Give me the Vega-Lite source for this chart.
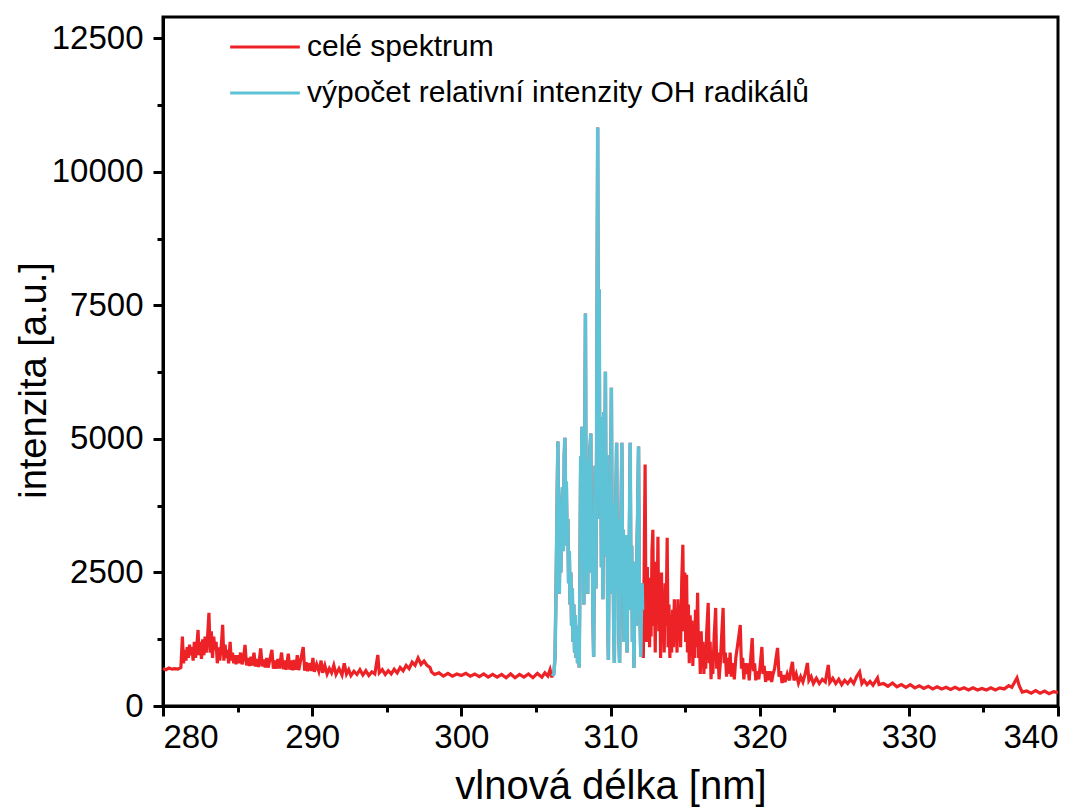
{
"$schema": "https://vega.github.io/schema/vega-lite/v6.json",
"width": 895, "height": 689,
"autosize": "none",
"padding": {"left": 163, "top": 17, "right": 31, "bottom": 105},
"background": "white",
"config": {
  "font": "Liberation Sans",
  "view": {"stroke": "black", "strokeWidth": 3},
  "axis": {"grid": false, "domainColor": "black", "domainWidth": 3, "tickColor": "black", "tickWidth": 3, "tickSize": 10, "labelColor": "black", "labelFontSize": 33, "titleFontSize": 38, "titleFontWeight": "normal", "titleColor": "black"}
},
"datasets": {
"full": [
{"nm":280.0,"I":700},{"nm":280.2,"I":680},{"nm":280.4,"I":710},{"nm":280.6,"I":690},{"nm":280.8,"I":700},{"nm":281.0,"I":690},{"nm":281.2,"I":720},{"nm":281.3,"I":1300},{"nm":281.38,"I":800},{"nm":281.46,"I":1050},{"nm":281.54,"I":850},{"nm":281.62,"I":1100},{"nm":281.7,"I":900},{"nm":281.78,"I":1150},{"nm":281.86,"I":950},{"nm":281.94,"I":1100},{"nm":282.02,"I":850},{"nm":282.1,"I":1200},{"nm":282.18,"I":900},{"nm":282.26,"I":1100},{"nm":282.35,"I":1424},{"nm":282.42,"I":950},{"nm":282.5,"I":1200},{"nm":282.58,"I":880},{"nm":282.66,"I":1250},{"nm":282.74,"I":950},{"nm":282.82,"I":1300},{"nm":282.9,"I":1000},{"nm":283.0,"I":1350},{"nm":283.08,"I":1743},{"nm":283.16,"I":1000},{"nm":283.24,"I":1400},{"nm":283.32,"I":900},{"nm":283.4,"I":1300},{"nm":283.48,"I":1050},{"nm":283.56,"I":1200},{"nm":283.64,"I":800},{"nm":283.72,"I":1100},{"nm":283.8,"I":850},{"nm":283.9,"I":1100},{"nm":284.0,"I":1518},{"nm":284.08,"I":850},{"nm":284.16,"I":1150},{"nm":284.24,"I":900},{"nm":284.32,"I":1050},{"nm":284.4,"I":800},{"nm":284.5,"I":1200},{"nm":284.58,"I":850},{"nm":284.66,"I":1000},{"nm":284.74,"I":800},{"nm":284.82,"I":950},{"nm":284.9,"I":780},{"nm":285.0,"I":950},{"nm":285.1,"I":800},{"nm":285.2,"I":1000},{"nm":285.3,"I":780},{"nm":285.4,"I":900},{"nm":285.5,"I":1143},{"nm":285.6,"I":760},{"nm":285.7,"I":900},{"nm":285.8,"I":750},{"nm":285.9,"I":920},{"nm":286.0,"I":760},{"nm":286.1,"I":1000},{"nm":286.2,"I":740},{"nm":286.3,"I":880},{"nm":286.4,"I":730},{"nm":286.55,"I":1080},{"nm":286.65,"I":740},{"nm":286.75,"I":870},{"nm":286.85,"I":720},{"nm":286.95,"I":900},{"nm":287.05,"I":720},{"nm":287.15,"I":850},{"nm":287.3,"I":1050},{"nm":287.4,"I":700},{"nm":287.5,"I":850},{"nm":287.6,"I":700},{"nm":287.7,"I":880},{"nm":287.8,"I":700},{"nm":287.95,"I":1000},{"nm":288.05,"I":690},{"nm":288.15,"I":850},{"nm":288.25,"I":680},{"nm":288.4,"I":980},{"nm":288.5,"I":680},{"nm":288.6,"I":850},{"nm":288.7,"I":670},{"nm":288.8,"I":860},{"nm":288.9,"I":680},{"nm":289.0,"I":950},{"nm":289.1,"I":670},{"nm":289.2,"I":820},{"nm":289.4,"I":1105},{"nm":289.5,"I":660},{"nm":289.6,"I":820},{"nm":289.7,"I":650},{"nm":289.8,"I":800},{"nm":289.95,"I":660},{"nm":290.05,"I":900},{"nm":290.15,"I":640},{"nm":290.3,"I":780},{"nm":290.45,"I":650},{"nm":290.6,"I":850},{"nm":290.7,"I":620},{"nm":290.85,"I":760},{"nm":291.0,"I":600},{"nm":291.15,"I":700},{"nm":291.3,"I":620},{"nm":291.45,"I":760},{"nm":291.6,"I":590},{"nm":291.8,"I":700},{"nm":292.0,"I":580},{"nm":292.15,"I":800},{"nm":292.3,"I":600},{"nm":292.45,"I":680},{"nm":292.6,"I":570},{"nm":292.8,"I":650},{"nm":293.0,"I":590},{"nm":293.2,"I":680},{"nm":293.4,"I":580},{"nm":293.6,"I":660},{"nm":293.8,"I":570},{"nm":294.0,"I":640},{"nm":294.2,"I":600},{"nm":294.4,"I":955},{"nm":294.5,"I":620},{"nm":294.7,"I":680},{"nm":294.9,"I":590},{"nm":295.1,"I":660},{"nm":295.3,"I":600},{"nm":295.5,"I":690},{"nm":295.7,"I":620},{"nm":295.9,"I":720},{"nm":296.1,"I":660},{"nm":296.3,"I":760},{"nm":296.5,"I":700},{"nm":296.7,"I":820},{"nm":296.9,"I":760},{"nm":297.1,"I":900},{"nm":297.3,"I":780},{"nm":297.5,"I":840},{"nm":297.7,"I":760},{"nm":297.9,"I":720},{"nm":298.0,"I":640},{"nm":298.2,"I":590},{"nm":298.5,"I":620},{"nm":298.8,"I":560},{"nm":299.1,"I":610},{"nm":299.4,"I":560},{"nm":299.7,"I":600},{"nm":300.0,"I":570},{"nm":300.3,"I":610},{"nm":300.6,"I":560},{"nm":300.9,"I":600},{"nm":301.2,"I":550},{"nm":301.5,"I":600},{"nm":301.8,"I":540},{"nm":302.1,"I":590},{"nm":302.4,"I":540},{"nm":302.7,"I":590},{"nm":303.0,"I":530},{"nm":303.3,"I":600},{"nm":303.6,"I":530},{"nm":303.9,"I":590},{"nm":304.2,"I":540},{"nm":304.5,"I":600},{"nm":304.8,"I":530},{"nm":305.1,"I":610},{"nm":305.4,"I":540},{"nm":305.6,"I":620},{"nm":305.8,"I":560},{"nm":305.95,"I":680},{"nm":306.05,"I":560},
{"nm":306.1,"I":560},{"nm":306.2,"I":600},{"nm":306.28,"I":900},{"nm":306.35,"I":2200},{"nm":306.42,"I":3800},{"nm":306.47,"I":4950},{"nm":306.52,"I":3000},{"nm":306.57,"I":2100},{"nm":306.62,"I":3400},{"nm":306.67,"I":2500},{"nm":306.72,"I":3700},{"nm":306.78,"I":4100},{"nm":306.84,"I":2900},{"nm":306.9,"I":4700},{"nm":306.94,"I":5020},{"nm":306.99,"I":3900},{"nm":307.04,"I":4200},{"nm":307.09,"I":3000},{"nm":307.14,"I":3500},{"nm":307.19,"I":2300},{"nm":307.24,"I":2900},{"nm":307.29,"I":1900},{"nm":307.34,"I":2500},{"nm":307.39,"I":1500},{"nm":307.44,"I":2200},{"nm":307.49,"I":1200},{"nm":307.54,"I":1900},{"nm":307.59,"I":1000},{"nm":307.64,"I":1700},{"nm":307.69,"I":900},{"nm":307.74,"I":1500},{"nm":307.79,"I":800},{"nm":307.85,"I":1300},{"nm":307.9,"I":720},{"nm":307.95,"I":2400},{"nm":308.0,"I":4670},{"nm":308.04,"I":2800},{"nm":308.08,"I":5230},{"nm":308.12,"I":3400},{"nm":308.17,"I":4300},{"nm":308.21,"I":1900},{"nm":308.26,"I":3900},{"nm":308.32,"I":7350},{"nm":308.37,"I":2600},{"nm":308.42,"I":4600},{"nm":308.47,"I":2100},{"nm":308.52,"I":4200},{"nm":308.57,"I":3000},{"nm":308.62,"I":4800},{"nm":308.68,"I":5100},{"nm":308.72,"I":2500},{"nm":308.77,"I":3600},{"nm":308.82,"I":1700},{"nm":308.87,"I":920},{"nm":308.92,"I":3000},{"nm":308.97,"I":4500},{"nm":309.02,"I":2200},{"nm":309.07,"I":5000},{"nm":309.14,"I":10830},{"nm":309.19,"I":5200},{"nm":309.24,"I":7800},{"nm":309.29,"I":3500},{"nm":309.34,"I":5400},{"nm":309.39,"I":2600},{"nm":309.44,"I":4800},{"nm":309.49,"I":2000},{"nm":309.54,"I":5500},{"nm":309.59,"I":3100},{"nm":309.66,"I":6260},{"nm":309.71,"I":2800},{"nm":309.76,"I":4700},{"nm":309.81,"I":1700},{"nm":309.86,"I":860},{"nm":309.91,"I":3500},{"nm":309.96,"I":2100},{"nm":310.01,"I":4300},{"nm":310.06,"I":5960},{"nm":310.11,"I":2600},{"nm":310.16,"I":3800},{"nm":310.21,"I":1500},{"nm":310.26,"I":806},{"nm":310.31,"I":2800},{"nm":310.36,"I":3900},{"nm":310.41,"I":4930},{"nm":310.46,"I":2200},{"nm":310.51,"I":3500},{"nm":310.56,"I":1300},{"nm":310.61,"I":806},{"nm":310.66,"I":2400},{"nm":310.71,"I":3600},{"nm":310.76,"I":4930},{"nm":310.81,"I":2300},{"nm":310.86,"I":3300},{"nm":310.91,"I":1200},{"nm":310.96,"I":2900},{"nm":311.01,"I":1700},{"nm":311.06,"I":3200},{"nm":311.11,"I":1000},{"nm":311.16,"I":2600},{"nm":311.21,"I":1800},{"nm":311.26,"I":3100},{"nm":311.32,"I":4930},{"nm":311.37,"I":2200},{"nm":311.42,"I":3000},{"nm":311.47,"I":1200},{"nm":311.52,"I":2400},{"nm":311.57,"I":712},{"nm":311.62,"I":2000},{"nm":311.67,"I":2700},{"nm":311.72,"I":1500},{"nm":311.77,"I":2900},{"nm":311.82,"I":3600},{"nm":311.88,"I":4860},{"nm":311.93,"I":2200},{"nm":311.98,"I":1600},{"nm":312.03,"I":920},{"nm":312.08,"I":2000},{"nm":312.12,"I":2300},{"nm":312.15,"I":1800},
{"nm":312.2,"I":900},{"nm":312.27,"I":3000},{"nm":312.32,"I":4520},{"nm":312.37,"I":2000},{"nm":312.42,"I":1200},{"nm":312.47,"I":2600},{"nm":312.52,"I":1400},{"nm":312.57,"I":2000},{"nm":312.62,"I":1100},{"nm":312.67,"I":2400},{"nm":312.72,"I":1300},{"nm":312.78,"I":2900},{"nm":312.84,"I":3300},{"nm":312.9,"I":1500},{"nm":312.95,"I":2100},{"nm":313.0,"I":1000},{"nm":313.06,"I":2700},{"nm":313.12,"I":1700},{"nm":313.18,"I":3170},{"nm":313.24,"I":1400},{"nm":313.3,"I":2200},{"nm":313.36,"I":900},{"nm":313.42,"I":2500},{"nm":313.48,"I":1200},{"nm":313.54,"I":1900},{"nm":313.6,"I":1000},{"nm":313.66,"I":2300},{"nm":313.72,"I":1500},{"nm":313.8,"I":3150},{"nm":313.86,"I":1100},{"nm":313.92,"I":1900},{"nm":313.98,"I":900},{"nm":314.04,"I":1700},{"nm":314.1,"I":1000},{"nm":314.16,"I":1800},{"nm":314.22,"I":1100},{"nm":314.28,"I":2000},{"nm":314.34,"I":1200},{"nm":314.4,"I":1700},{"nm":314.46,"I":1000},{"nm":314.52,"I":2000},{"nm":314.58,"I":1300},{"nm":314.64,"I":1900},{"nm":314.7,"I":1100},{"nm":314.78,"I":2400},{"nm":314.85,"I":3017},{"nm":314.92,"I":1400},{"nm":314.98,"I":2500},{"nm":315.04,"I":1200},{"nm":315.1,"I":2455},{"nm":315.16,"I":1000},{"nm":315.22,"I":1900},{"nm":315.28,"I":800},{"nm":315.34,"I":1700},{"nm":315.4,"I":1100},{"nm":315.46,"I":1600},{"nm":315.52,"I":750},{"nm":315.58,"I":1500},{"nm":315.64,"I":900},{"nm":315.7,"I":1800},{"nm":315.76,"I":1100},{"nm":315.84,"I":2118},{"nm":315.9,"I":900},{"nm":315.96,"I":1300},{"nm":316.02,"I":600},{"nm":316.08,"I":1400},{"nm":316.14,"I":800},{"nm":316.2,"I":1200},{"nm":316.26,"I":600},{"nm":316.32,"I":1000},{"nm":316.38,"I":700},{"nm":316.45,"I":1400},{"nm":316.55,"I":1930},{"nm":316.62,"I":800},{"nm":316.68,"I":1200},{"nm":316.74,"I":500},{"nm":316.8,"I":900},{"nm":316.86,"I":600},{"nm":316.95,"I":1300},{"nm":317.05,"I":1836},{"nm":317.12,"I":700},{"nm":317.2,"I":1000},{"nm":317.28,"I":500},{"nm":317.36,"I":800},{"nm":317.45,"I":1300},{"nm":317.55,"I":1836},{"nm":317.62,"I":800},{"nm":317.7,"I":1000},{"nm":317.78,"I":550},{"nm":317.86,"I":900},{"nm":317.94,"I":600},{"nm":318.02,"I":1000},{"nm":318.1,"I":550},{"nm":318.2,"I":800},{"nm":318.3,"I":500},{"nm":318.4,"I":900},{"nm":318.5,"I":1100},{"nm":318.6,"I":1300},{"nm":318.7,"I":1518},{"nm":318.78,"I":700},{"nm":318.86,"I":900},{"nm":318.94,"I":500},{"nm":319.02,"I":800},{"nm":319.1,"I":600},{"nm":319.2,"I":800},{"nm":319.3,"I":480},{"nm":319.4,"I":900},{"nm":319.5,"I":1270},{"nm":319.58,"I":650},{"nm":319.66,"I":800},{"nm":319.74,"I":480},{"nm":319.84,"I":650},{"nm":319.94,"I":500},{"nm":320.05,"I":800},{"nm":320.15,"I":1105},{"nm":320.22,"I":600},{"nm":320.3,"I":750},{"nm":320.4,"I":450},{"nm":320.5,"I":650},{"nm":320.6,"I":480},{"nm":320.7,"I":650},{"nm":320.8,"I":450},{"nm":320.9,"I":600},{"nm":321.0,"I":700},{"nm":321.1,"I":900},{"nm":321.2,"I":1087},{"nm":321.3,"I":550},{"nm":321.4,"I":650},{"nm":321.5,"I":430},{"nm":321.6,"I":580},{"nm":321.7,"I":450},{"nm":321.85,"I":600},{"nm":322.0,"I":480},{"nm":322.1,"I":700},{"nm":322.2,"I":825},{"nm":322.3,"I":480},{"nm":322.45,"I":600},{"nm":322.6,"I":430},{"nm":322.75,"I":550},{"nm":322.9,"I":450},{"nm":323.05,"I":600},{"nm":323.2,"I":806},{"nm":323.3,"I":480},{"nm":323.45,"I":550},{"nm":323.6,"I":420},{"nm":323.8,"I":520},{"nm":324.0,"I":420},{"nm":324.2,"I":500},{"nm":324.4,"I":450},{"nm":324.6,"I":768},{"nm":324.7,"I":440},{"nm":324.9,"I":520},{"nm":325.1,"I":420},{"nm":325.3,"I":500},{"nm":325.5,"I":400},{"nm":325.7,"I":480},{"nm":325.9,"I":420},{"nm":326.1,"I":500},{"nm":326.3,"I":420},{"nm":326.5,"I":550},{"nm":326.7,"I":637},{"nm":326.85,"I":420},{"nm":327.0,"I":480},{"nm":327.2,"I":400},{"nm":327.4,"I":460},{"nm":327.6,"I":390},{"nm":327.9,"I":525},{"nm":328.0,"I":400},{"nm":328.3,"I":420},{"nm":328.6,"I":370},{"nm":328.9,"I":430},{"nm":329.2,"I":360},{"nm":329.5,"I":400},{"nm":329.8,"I":350},{"nm":330.1,"I":400},{"nm":330.4,"I":340},{"nm":330.7,"I":380},{"nm":331.0,"I":330},{"nm":331.3,"I":370},{"nm":331.6,"I":320},{"nm":331.9,"I":360},{"nm":332.2,"I":320},{"nm":332.5,"I":350},{"nm":332.8,"I":310},{"nm":333.1,"I":350},{"nm":333.4,"I":310},{"nm":333.7,"I":340},{"nm":334.0,"I":300},{"nm":334.3,"I":340},{"nm":334.6,"I":300},{"nm":334.9,"I":330},{"nm":335.2,"I":300},{"nm":335.5,"I":340},{"nm":335.8,"I":300},{"nm":336.1,"I":340},{"nm":336.4,"I":320},{"nm":336.7,"I":380},{"nm":336.9,"I":350},{"nm":337.1,"I":450},{"nm":337.25,"I":525},{"nm":337.4,"I":380},{"nm":337.6,"I":260},{"nm":337.9,"I":280},{"nm":338.2,"I":240},{"nm":338.5,"I":290},{"nm":338.8,"I":240},{"nm":339.1,"I":280},{"nm":339.4,"I":230},{"nm":339.7,"I":270},{"nm":340.0,"I":250}
],
"oh": [
{"nm":306.1,"I":560},{"nm":306.2,"I":600},{"nm":306.28,"I":900},{"nm":306.35,"I":2200},{"nm":306.42,"I":3800},{"nm":306.47,"I":4950},{"nm":306.52,"I":3000},{"nm":306.57,"I":2100},{"nm":306.62,"I":3400},{"nm":306.67,"I":2500},{"nm":306.72,"I":3700},{"nm":306.78,"I":4100},{"nm":306.84,"I":2900},{"nm":306.9,"I":4700},{"nm":306.94,"I":5020},{"nm":306.99,"I":3900},{"nm":307.04,"I":4200},{"nm":307.09,"I":3000},{"nm":307.14,"I":3500},{"nm":307.19,"I":2300},{"nm":307.24,"I":2900},{"nm":307.29,"I":1900},{"nm":307.34,"I":2500},{"nm":307.39,"I":1500},{"nm":307.44,"I":2200},{"nm":307.49,"I":1200},{"nm":307.54,"I":1900},{"nm":307.59,"I":1000},{"nm":307.64,"I":1700},{"nm":307.69,"I":900},{"nm":307.74,"I":1500},{"nm":307.79,"I":800},{"nm":307.85,"I":1300},{"nm":307.9,"I":720},{"nm":307.95,"I":2400},{"nm":308.0,"I":4670},{"nm":308.04,"I":2800},{"nm":308.08,"I":5230},{"nm":308.12,"I":3400},{"nm":308.17,"I":4300},{"nm":308.21,"I":1900},{"nm":308.26,"I":3900},{"nm":308.32,"I":7350},{"nm":308.37,"I":2600},{"nm":308.42,"I":4600},{"nm":308.47,"I":2100},{"nm":308.52,"I":4200},{"nm":308.57,"I":3000},{"nm":308.62,"I":4800},{"nm":308.68,"I":5100},{"nm":308.72,"I":2500},{"nm":308.77,"I":3600},{"nm":308.82,"I":1700},{"nm":308.87,"I":920},{"nm":308.92,"I":3000},{"nm":308.97,"I":4500},{"nm":309.02,"I":2200},{"nm":309.07,"I":5000},{"nm":309.14,"I":10830},{"nm":309.19,"I":5200},{"nm":309.24,"I":7800},{"nm":309.29,"I":3500},{"nm":309.34,"I":5400},{"nm":309.39,"I":2600},{"nm":309.44,"I":4800},{"nm":309.49,"I":2000},{"nm":309.54,"I":5500},{"nm":309.59,"I":3100},{"nm":309.66,"I":6260},{"nm":309.71,"I":2800},{"nm":309.76,"I":4700},{"nm":309.81,"I":1700},{"nm":309.86,"I":860},{"nm":309.91,"I":3500},{"nm":309.96,"I":2100},{"nm":310.01,"I":4300},{"nm":310.06,"I":5960},{"nm":310.11,"I":2600},{"nm":310.16,"I":3800},{"nm":310.21,"I":1500},{"nm":310.26,"I":806},{"nm":310.31,"I":2800},{"nm":310.36,"I":3900},{"nm":310.41,"I":4930},{"nm":310.46,"I":2200},{"nm":310.51,"I":3500},{"nm":310.56,"I":1300},{"nm":310.61,"I":806},{"nm":310.66,"I":2400},{"nm":310.71,"I":3600},{"nm":310.76,"I":4930},{"nm":310.81,"I":2300},{"nm":310.86,"I":3300},{"nm":310.91,"I":1200},{"nm":310.96,"I":2900},{"nm":311.01,"I":1700},{"nm":311.06,"I":3200},{"nm":311.11,"I":1000},{"nm":311.16,"I":2600},{"nm":311.21,"I":1800},{"nm":311.26,"I":3100},{"nm":311.32,"I":4930},{"nm":311.37,"I":2200},{"nm":311.42,"I":3000},{"nm":311.47,"I":1200},{"nm":311.52,"I":2400},{"nm":311.57,"I":712},{"nm":311.62,"I":2000},{"nm":311.67,"I":2700},{"nm":311.72,"I":1500},{"nm":311.77,"I":2900},{"nm":311.82,"I":3600},{"nm":311.88,"I":4860},{"nm":311.93,"I":2200},{"nm":311.98,"I":1600},{"nm":312.03,"I":920},{"nm":312.08,"I":2000},{"nm":312.12,"I":2300},{"nm":312.15,"I":1800}
]
},
"layer": [
  {
    "data": {"name": "full"},
    "mark": {"type": "line", "strokeWidth": 3.2},
    "encoding": {
      "x": {"field": "nm", "type": "quantitative", "scale": {"domain": [280, 340], "nice": false, "zero": false},
            "axis": {"values": [280, 290, 300, 310, 320, 330, 340], "title": "vlnová délka [nm]", "titleFontSize": 40, "labelPadding": 5, "titlePadding": 12, "orient": "bottom"}},
      "y": {"field": "I", "type": "quantitative", "scale": {"domain": [0, 12900], "nice": false},
            "axis": {"values": [0, 2500, 5000, 7500, 10000, 12500], "format": "d", "title": "intenzita [a.u.]", "labelPadding": 10, "titleX": -110, "titleY": 363, "orient": "left"}},
      "color": {"datum": "celé spektrum", "type": "nominal",
        "scale": {"domain": ["celé spektrum", "výpočet relativní intenzity OH radikálů"], "range": ["#ec2227", "#5ec3d6"]},
        "legend": {"title": null, "orient": "none", "legendX": 80, "legendY": 8, "padding": 0, "symbolType": "M-1.7,0H1.7", "symbolSize": 1681, "symbolStrokeWidth": 3, "labelFontSize": 30, "labelColor": "black", "labelOffset": 20, "rowPadding": 9, "labelLimit": 900}}
    }
  },
  {
    "data": {"name": "oh"},
    "mark": {"type": "line", "strokeWidth": 3.5},
    "encoding": {
      "x": {"field": "nm", "type": "quantitative", "scale": {"domain": [280, 340], "nice": false, "zero": false},
            "axis": {"values": [285, 295, 305, 315, 325, 335], "labels": false, "title": null, "domain": false, "tickSize": 6, "orient": "bottom"}},
      "y": {"field": "I", "type": "quantitative", "scale": {"domain": [0, 12900], "nice": false},
            "axis": {"values": [1250, 3750, 6250, 8750, 11250], "labels": false, "title": null, "domain": false, "tickSize": 6, "orient": "left"}},
      "color": {"datum": "výpočet relativní intenzity OH radikálů", "type": "nominal"}
    }
  }
],
"resolve": {"axis": {"x": "independent", "y": "independent"}}
}
